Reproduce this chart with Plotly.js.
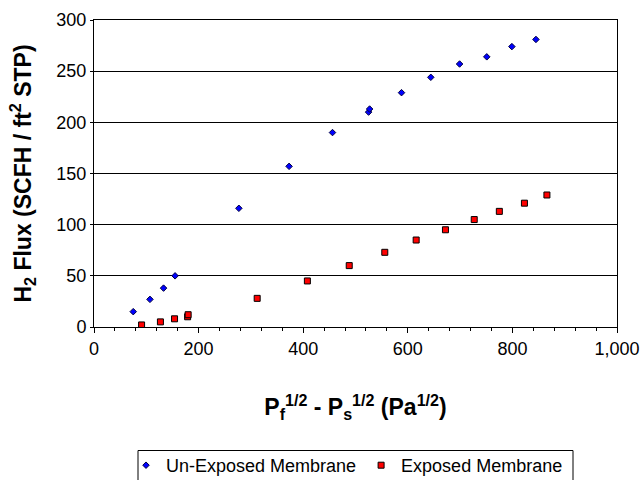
<!DOCTYPE html>
<html>
<head>
<meta charset="utf-8">
<script src="https://cdn.plot.ly/plotly-3.0.1.min.js"></script>
<style>html,body{margin:0;padding:0;background:#fff;}#chart{width:641px;height:480px;}</style>
</head>
<body>
<div id="chart"></div>
<script>
var unexposedX = [75, 107, 133, 155, 277, 373, 456, 525, 527, 588, 644, 699, 751, 799, 845];
var unexposedY = [15, 27, 38, 50, 116, 157, 190, 210, 213, 229, 244, 257, 264, 274, 281];
var exposedX = [91, 127, 154, 179, 180, 312, 408, 488, 556, 616, 672, 727, 775, 823, 866];
var exposedY = [2, 5, 8, 10, 12, 28, 45, 60, 73, 85, 95, 105, 113, 121, 129];
var seriesNames = ['Un-Exposed Membrane', 'Exposed Membrane'];
var xTickVals = [0, 200, 400, 600, 800, 1000];
var xTickText = ['0', '200', '400', '600', '800', '1,000'];
var yTickVals = [0, 50, 100, 150, 200, 250, 300];

var font = 'Liberation Sans, Arial, sans-serif';
var traces = [
  {x: unexposedX, y: unexposedY, name: seriesNames[0], type: 'scatter', mode: 'markers',
   marker: {symbol: 'diamond', size: 5, color: '#0000FF', line: {color: '#000040', width: 1}}},
  {x: exposedX, y: exposedY, name: seriesNames[1], type: 'scatter', mode: 'markers',
   marker: {symbol: 'square', size: 6, color: '#FF0000', line: {color: '#000000', width: 1}}}
];
var layout = {
  width: 641, height: 480,
  margin: {l: 94, r: 24, t: 20, b: 153, autoexpand: false},
  paper_bgcolor: '#ffffff', plot_bgcolor: '#ffffff',
  font: {family: font, size: 18, color: '#000'},
  showlegend: true,
  legend: {orientation: 'h', x: (126 - 94) / 523, xanchor: 'left', y: (327 - 447) / 307, yanchor: 'top',
    borderwidth: 0, bgcolor: 'rgba(0,0,0,0)', font: {family: font, size: 18, color: '#000'},
    itemwidth: 30, tracegroupgap: 0},
  shapes: [{type: 'rect', xref: 'paper', yref: 'paper',
    x0: (138 - 94) / 523, x1: (573 - 94) / 523, y0: (327 - 495) / 307, y1: (327 - 450.5) / 307,
    line: {color: '#000', width: 1}, fillcolor: 'rgba(0,0,0,0)', layer: 'below'}],
  xaxis: {range: [0, 1000], tickvals: xTickVals, ticktext: xTickText,
    showgrid: false, zeroline: false, showline: true, linecolor: '#000', linewidth: 1, mirror: true,
    ticks: 'outside', ticklen: 5, tickcolor: '#000', tickwidth: 1,
    minor: {dtick: 40, ticks: 'outside', ticklen: 3, tickcolor: '#000', tickwidth: 1, showgrid: false},
    tickfont: {family: font, size: 18, color: '#000'},
    title: {text: '<b>P<sub>f</sub><sup>1/2</sup> - P<sub>s</sub><sup>1/2</sup> (Pa<sup>1/2</sup>)</b>',
      font: {family: font, size: 23, color: '#000'}, standoff: 41}},
  yaxis: {range: [0, 300], tickvals: yTickVals,
    showgrid: true, gridcolor: '#000', gridwidth: 1, zeroline: false,
    showline: true, linecolor: '#000', linewidth: 1, mirror: true,
    ticks: 'outside', ticklen: 3, tickcolor: '#000',
    tickfont: {family: font, size: 18, color: '#000'},
    title: {text: '<b>H<sub>2</sub> Flux (SCFH / ft<sup>2</sup> STP)</b>',
      font: {family: font, size: 23, color: '#000'}, standoff: 18}}
};
Plotly.newPlot('chart', traces, layout, {displayModeBar: false, staticPlot: true});
</script>
</body>
</html>
